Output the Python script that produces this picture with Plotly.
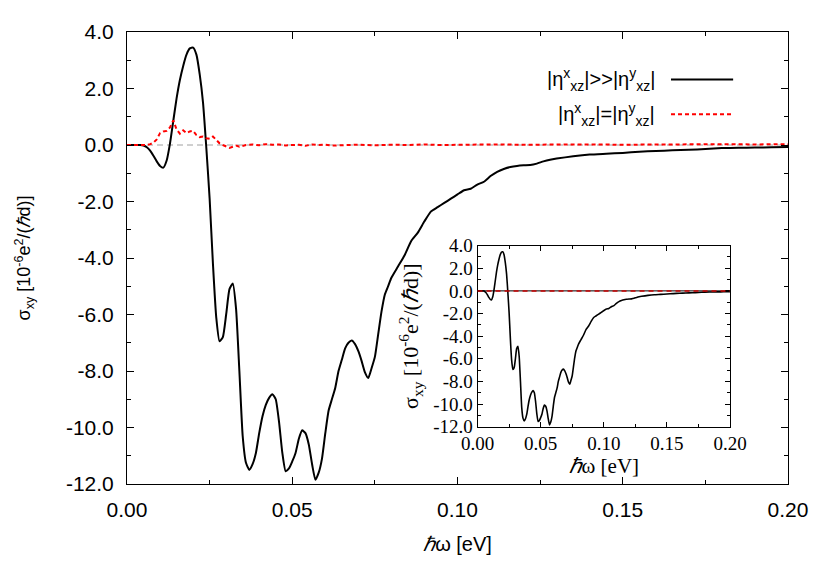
import plotly.graph_objects as go

# photon energy (eV) and Hall conductivity (10^-6 e^2/(hbar d))
energy_strong = [0.000, 0.004, 0.005, 0.006, 0.007, 0.008, 0.009, 0.010, 0.011, 0.012,
                 0.013, 0.014, 0.015, 0.016, 0.017, 0.018, 0.019, 0.020, 0.021, 0.022,
                 0.023, 0.024, 0.025, 0.026, 0.027, 0.028, 0.029, 0.030, 0.031, 0.032,
                 0.033, 0.034, 0.035, 0.036, 0.037, 0.038, 0.039, 0.040, 0.041, 0.042,
                 0.043, 0.044, 0.045, 0.046, 0.047, 0.048, 0.049, 0.050, 0.051, 0.052,
                 0.053, 0.054, 0.055, 0.056, 0.057, 0.058, 0.059, 0.060, 0.061, 0.062,
                 0.063, 0.064, 0.065, 0.066, 0.067, 0.068, 0.069, 0.070, 0.071, 0.072,
                 0.073, 0.074, 0.075, 0.076, 0.077, 0.078, 0.079, 0.080, 0.082, 0.084,
                 0.086, 0.088, 0.090, 0.092, 0.094, 0.096, 0.098, 0.100, 0.102, 0.104,
                 0.106, 0.108, 0.110, 0.112, 0.114, 0.116, 0.118, 0.120, 0.122, 0.124,
                 0.126, 0.128, 0.130, 0.135, 0.140, 0.145, 0.150, 0.155, 0.160, 0.165,
                 0.170, 0.175, 0.180, 0.185, 0.190, 0.195, 0.200]
sigma_strong = [0.00, 0.00, -0.02, -0.08, -0.20, -0.38, -0.58, -0.74, -0.80, -0.55,
                0.05, 0.85, 1.65, 2.30, 2.80, 3.20, 3.42, 3.45, 3.20, 2.50,
                1.50, -0.10, -1.90, -4.20, -6.10, -6.95, -6.80, -6.00, -5.10, -4.90,
                -5.80, -8.00, -10.30, -11.25, -11.50, -11.30, -10.90, -10.20, -9.60, -9.20,
                -8.95, -8.82, -9.00, -9.80, -10.90, -11.55, -11.45, -11.20, -10.90, -10.40,
                -10.10, -10.20, -10.60, -11.30, -11.85, -11.60, -11.10, -10.20, -9.40, -9.00,
                -8.60, -8.00, -7.60, -7.20, -7.00, -6.92, -7.05, -7.30, -7.65, -8.05,
                -8.25, -7.90, -7.50, -6.70, -5.90, -5.30, -5.00, -4.70, -4.30, -3.90,
                -3.40, -3.10, -2.70, -2.35, -2.20, -2.05, -1.90, -1.75, -1.60, -1.55,
                -1.40, -1.30, -1.10, -0.95, -0.85, -0.78, -0.74, -0.72, -0.71, -0.66,
                -0.58, -0.52, -0.48, -0.40, -0.34, -0.31, -0.28, -0.24, -0.21, -0.19,
                -0.17, -0.14, -0.11, -0.10, -0.09, -0.08, -0.07]

energy_equal = [0.000, 0.006, 0.007, 0.008, 0.009, 0.010, 0.011, 0.012, 0.013, 0.014,
                0.015, 0.016, 0.017, 0.018, 0.019, 0.020, 0.021, 0.022, 0.023, 0.024,
                0.025, 0.026, 0.027, 0.028, 0.029, 0.030, 0.031, 0.032, 0.033, 0.034,
                0.035, 0.036, 0.038, 0.040, 0.042, 0.044, 0.046, 0.048, 0.050, 0.052,
                0.054, 0.056, 0.058, 0.060, 0.062, 0.065, 0.070, 0.075, 0.080, 0.085,
                0.090, 0.095, 0.100, 0.110, 0.120, 0.130, 0.140, 0.150, 0.160, 0.170,
                0.180, 0.190, 0.200]
sigma_equal = [0.00, 0.00, 0.03, 0.08, 0.20, 0.42, 0.48, 0.50, 0.62, 0.87,
               0.55, 0.40, 0.52, 0.42, 0.48, 0.50, 0.35, 0.28, 0.30, 0.24,
               0.22, 0.30, 0.18, 0.06, 0.00, -0.05, -0.10, -0.06, -0.02, -0.06,
               -0.03, 0.00, 0.02, -0.01, 0.03, 0.01, 0.02, -0.02, 0.00, 0.01,
               -0.03, 0.02, 0.00, 0.01, -0.02, 0.00, 0.01, -0.01, 0.01, 0.00,
               0.02, 0.00, 0.01, 0.02, 0.01, 0.02, 0.02, 0.01, 0.02, 0.02,
               0.03, 0.02, 0.03]

x_ticks = [0.0, 0.05, 0.10, 0.15, 0.20]
x_tick_labels = ["0.00", "0.05", "0.10", "0.15", "0.20"]
y_ticks = [4, 2, 0, -2, -4, -6, -8, -10, -12]
y_tick_labels = ["4.0", "2.0", "0.0", "-2.0", "-4.0", "-6.0", "-8.0", "-10.0", "-12.0"]

label_strong = "|η<sup>x</sup><sub>xz</sub>|>>|η<sup>y</sup><sub>xz</sub>|"
label_equal = "|η<sup>x</sup><sub>xz</sub>|=|η<sup>y</sup><sub>xz</sub>|"
sigma_title = "σ<sub>xy</sub> [10<sup>-6</sup>e<sup>2</sup>/(<i>ℏ</i>d)]"
energy_title = "<i>ℏ</i>ω [eV]"

SANS = "Liberation Sans, Arial, sans-serif"
SERIF = "Liberation Serif, Times New Roman, serif"

fig = go.Figure()

# main panel
fig.add_trace(go.Scatter(x=energy_strong, y=sigma_strong, mode="lines",
                         line=dict(color="black", width=2, shape="spline", smoothing=0.5),
                         showlegend=False))
fig.add_trace(go.Scatter(x=energy_equal, y=sigma_equal, mode="lines",
                         line=dict(color="#ff0000", width=2, dash="4px,3px"),
                         showlegend=False))

# inset
fig.add_trace(go.Scatter(x=energy_strong, y=sigma_strong, mode="lines",
                         line=dict(color="black", width=1.6, shape="spline", smoothing=0.5),
                         xaxis="x2", yaxis="y2", showlegend=False))

fig.add_hline(y=0, line=dict(color="#a0a0a0", width=1, dash="6px,4px"), layer="below")
fig.add_shape(type="line", xref="x2 domain", yref="y2", x0=0, x1=1, y0=0, y1=0,
              line=dict(color="black", width=1))
fig.add_shape(type="line", xref="x2 domain", yref="y2", x0=0, x1=1, y0=0, y1=0,
              line=dict(color="#cc0000", width=1.5, dash="5px,4px"))

# legend drawn gnuplot style: text on the left, sample on the right
legend_rows = [(label_strong, 0.895, dict(color="black", width=2)),
               (label_equal, 0.818, dict(color="#ff0000", width=2, dash="4px,3px"))]
for text, ypos, style in legend_rows:
    fig.add_annotation(text=text, xref="paper", yref="paper", x=0.802, y=ypos,
                       xanchor="right", yanchor="middle", showarrow=False,
                       font=dict(family=SANS, size=20, color="black"))
    fig.add_shape(type="line", xref="paper", yref="paper", x0=0.823, x1=0.917,
                  y0=ypos, y1=ypos, line=style)

main_axis = dict(showline=True, linecolor="black", linewidth=1, mirror="ticks",
                 ticks="inside", ticklen=7, tickcolor="black", showgrid=False,
                 zeroline=False, tickfont=dict(family=SANS, size=21, color="black"))
inset_axis = dict(showline=True, linecolor="black", linewidth=1, mirror="ticks",
                  ticks="inside", ticklen=5, tickcolor="black", showgrid=False,
                  zeroline=False, tickfont=dict(family=SERIF, size=19, color="black"))

# page body has an 8px margin, so the figure is 8px smaller than the window
fig.update_layout(
    width=822, height=573,
    margin=dict(l=119, r=42, t=19, b=97),
    plot_bgcolor="white", paper_bgcolor="white",
    xaxis=dict(main_axis, range=[0, 0.2], domain=[0, 1],
               tickvals=x_ticks, ticktext=x_tick_labels, ticklabelstandoff=7,
               minor=dict(ticks="inside", ticklen=4, tick0=0, dtick=0.025, tickcolor="black"),
               title=dict(text=energy_title, standoff=16,
                          font=dict(family=SANS, size=20, color="black"))),
    yaxis=dict(main_axis, range=[-12, 4], domain=[0, 1],
               tickvals=y_ticks, ticktext=y_tick_labels, ticklabelstandoff=8,
               minor=dict(ticks="inside", ticklen=4, tick0=0, dtick=1, tickcolor="black"),
               title=dict(text=sigma_title, standoff=30,
                          font=dict(family=SANS, size=18, color="black"))),
    xaxis2=dict(inset_axis, range=[0, 0.2], domain=[0.5303, 0.9123], anchor="y2",
                tickvals=x_ticks, ticktext=x_tick_labels,
                minor=dict(ticks="inside", ticklen=3, tick0=0, dtick=0.025, tickcolor="black"),
                title=dict(text=energy_title, standoff=0,
                           font=dict(family=SERIF, size=21, color="black"))),
    yaxis2=dict(inset_axis, range=[-12, 4], domain=[0.1269, 0.5274], anchor="x2",
                tickvals=y_ticks, ticktext=y_tick_labels,
                minor=dict(ticks="inside", ticklen=3, tick0=0, dtick=1, tickcolor="black"),
                title=dict(text=sigma_title, standoff=8,
                           font=dict(family=SERIF, size=22, color="black"))),
)

fig.write_html("out.html")
